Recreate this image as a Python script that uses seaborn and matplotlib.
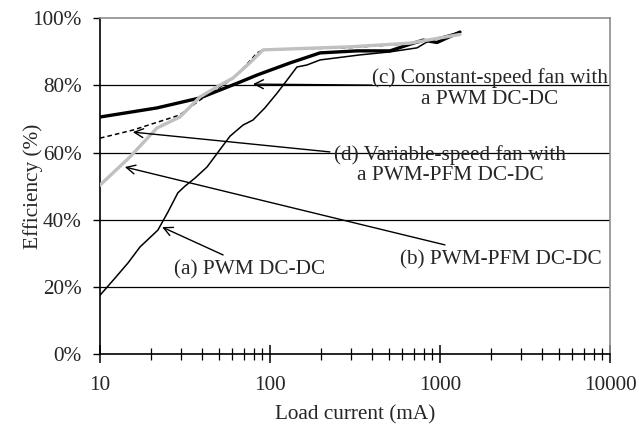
import matplotlib
matplotlib.use("Agg")
import matplotlib.pyplot as plt
import seaborn as sns
import pandas as pd
from matplotlib.ticker import LogLocator, FuncFormatter, NullFormatter, FixedLocator

# ---- data ----
a_current = [10, 12.25, 14.6, 17.2, 21.9, 25.1, 28.7, 31.6, 36.2, 42.6, 52.2, 58.2, 69.4, 79.4, 93.3,
             110, 126, 144, 165, 197, 338, 508, 733, 874, 1310]
a_eff = [17.5, 22.6, 27.1, 31.9, 36.9, 42.3, 48.0, 50.0, 52.4, 55.7, 61.7, 64.9, 68.2, 69.7, 73.3,
         77.7, 81.6, 85.5, 86.1, 87.6, 89.1, 90.0, 91.2, 93.5, 95.9]

b_current = [10, 15, 21.6, 29.5, 38.8, 50.8, 60.6, 76, 91, 295, 666, 1310]
b_eff = [50.3, 58.7, 67.3, 70.6, 76.6, 80.1, 82.2, 86.7, 90.6, 91.5, 92.6, 95.2]

c_current = [10, 21.6, 38.8, 66.6, 83.9, 131, 197, 325, 508, 640, 795, 960, 1310]
c_eff = [70.6, 73.3, 76.3, 81.0, 83.1, 86.7, 89.7, 90.3, 90.3, 92.0, 93.5, 92.8, 95.9]

d_current = [10, 15.6, 29.5, 38.8, 53, 64, 84, 91, 300, 700, 1310]
d_eff = [64.3, 66.7, 71.2, 75.7, 80.1, 83.1, 89.7, 90.6, 91.3, 92.5, 95.3]

x_ticks = [10, 100, 1000, 10000]
x_tick_labels = ["10", "100", "1000", "10000"]
y_ticks = [0, 20, 40, 60, 80, 100]

labels = {
    "a": "(a) PWM DC-DC",
    "b": "(b) PWM-PFM DC-DC",
    "c": "(c) Constant-speed fan with\na PWM DC-DC",
    "d": "(d) Variable-speed fan with\na PWM-PFM DC-DC",
}

df = pd.concat([
    pd.DataFrame({"current": a_current, "eff": a_eff, "series": "a"}),
    pd.DataFrame({"current": c_current, "eff": c_eff, "series": "c"}),
    pd.DataFrame({"current": d_current, "eff": d_eff, "series": "d"}),
    pd.DataFrame({"current": b_current, "eff": b_eff, "series": "b"}),
])

sns.set_style("white")
plt.rcParams["font.family"] = ["Liberation Serif", "DejaVu Serif"]
FS = 15.3

fig = plt.figure(figsize=(6.39, 4.32), dpi=100)
ax = fig.add_axes([0.1565, 0.1806, 0.7981, 0.777])

styles = {
    "a": dict(color="black", lw=1.1, ls="-"),
    "c": dict(color="black", lw=2.4, ls="-"),
    "d": dict(color="black", lw=1.1, ls=(0, (3, 2))),
    "b": dict(color="#c0c0c0", lw=2.4, ls="-"),
}
for key in ["a", "c", "d", "b"]:
    sub = df[df["series"] == key]
    st = styles[key]
    sns.lineplot(data=sub, x="current", y="eff", ax=ax, color=st["color"],
                 linewidth=st["lw"], linestyle=st["ls"], estimator=None,
                 sort=False, legend=False, zorder=3)

ax.set_xscale("log")
ax.set_xlim(10, 10000)
ax.set_ylim(0, 100)

for yv in y_ticks[1:-1]:
    ax.axhline(yv, color="black", lw=0.9, zorder=1)

ax.xaxis.set_major_locator(FixedLocator(x_ticks))
ax.xaxis.set_major_formatter(FuncFormatter(lambda v, p: x_tick_labels[x_ticks.index(round(v))] if round(v) in x_ticks else ""))
ax.xaxis.set_minor_locator(LogLocator(base=10, subs=range(2, 10)))
ax.xaxis.set_minor_formatter(NullFormatter())
ax.set_yticks(y_ticks)
ax.yaxis.set_major_formatter(FuncFormatter(lambda v, p: f"{int(v)}%"))

ax.tick_params(axis="x", which="major", direction="inout", length=13, width=1.1,
               color="black", labelsize=FS, pad=9, bottom=True)
ax.tick_params(axis="x", which="minor", direction="inout", length=9, width=0.9,
               color="black", bottom=True)
ax.tick_params(axis="y", which="major", direction="out", length=5, width=1,
               color="black", labelsize=FS, pad=8, left=True)

for s in ["left", "bottom"]:
    ax.spines[s].set_color("black")
    ax.spines[s].set_linewidth(1.2)
for s in ["top", "right"]:
    ax.spines[s].set_color("#8c8c8c")
    ax.spines[s].set_linewidth(1.2)

ax.set_xlabel("Load current (mA)", fontsize=FS, labelpad=8)
ax.set_ylabel("Efficiency (%)", fontsize=FS)
ax.yaxis.set_label_coords(-0.112, 0.5)

arrow = dict(arrowstyle="->", color="black", lw=1.0, mutation_scale=16, shrinkA=0, shrinkB=0)
# (c)
ax.annotate("", xy=(79.4, 80.4), xytext=(398, 80.1), arrowprops=arrow, zorder=4)
ax.text(1968, 79.1, labels["c"], fontsize=FS, ha="center", va="center", linespacing=1.1)
# (d)
ax.annotate("", xy=(15.6, 66.1), xytext=(225, 60.2), arrowprops=arrow, zorder=4)
ax.text(1145, 56.3, labels["d"], fontsize=FS, ha="center", va="center", linespacing=1.1)
# (b)
ax.annotate("", xy=(14.0, 55.7), xytext=(1069, 32.5), arrowprops=arrow, zorder=4)
ax.text(2286, 28.0, labels["b"], fontsize=FS, ha="center", va="center")
# (a)
ax.annotate("", xy=(23.2, 37.8), xytext=(53, 29.5), arrowprops=arrow, zorder=4)
ax.text(76.3, 25.0, labels["a"], fontsize=FS, ha="center", va="center")

fig.savefig("out.png", dpi=100)
